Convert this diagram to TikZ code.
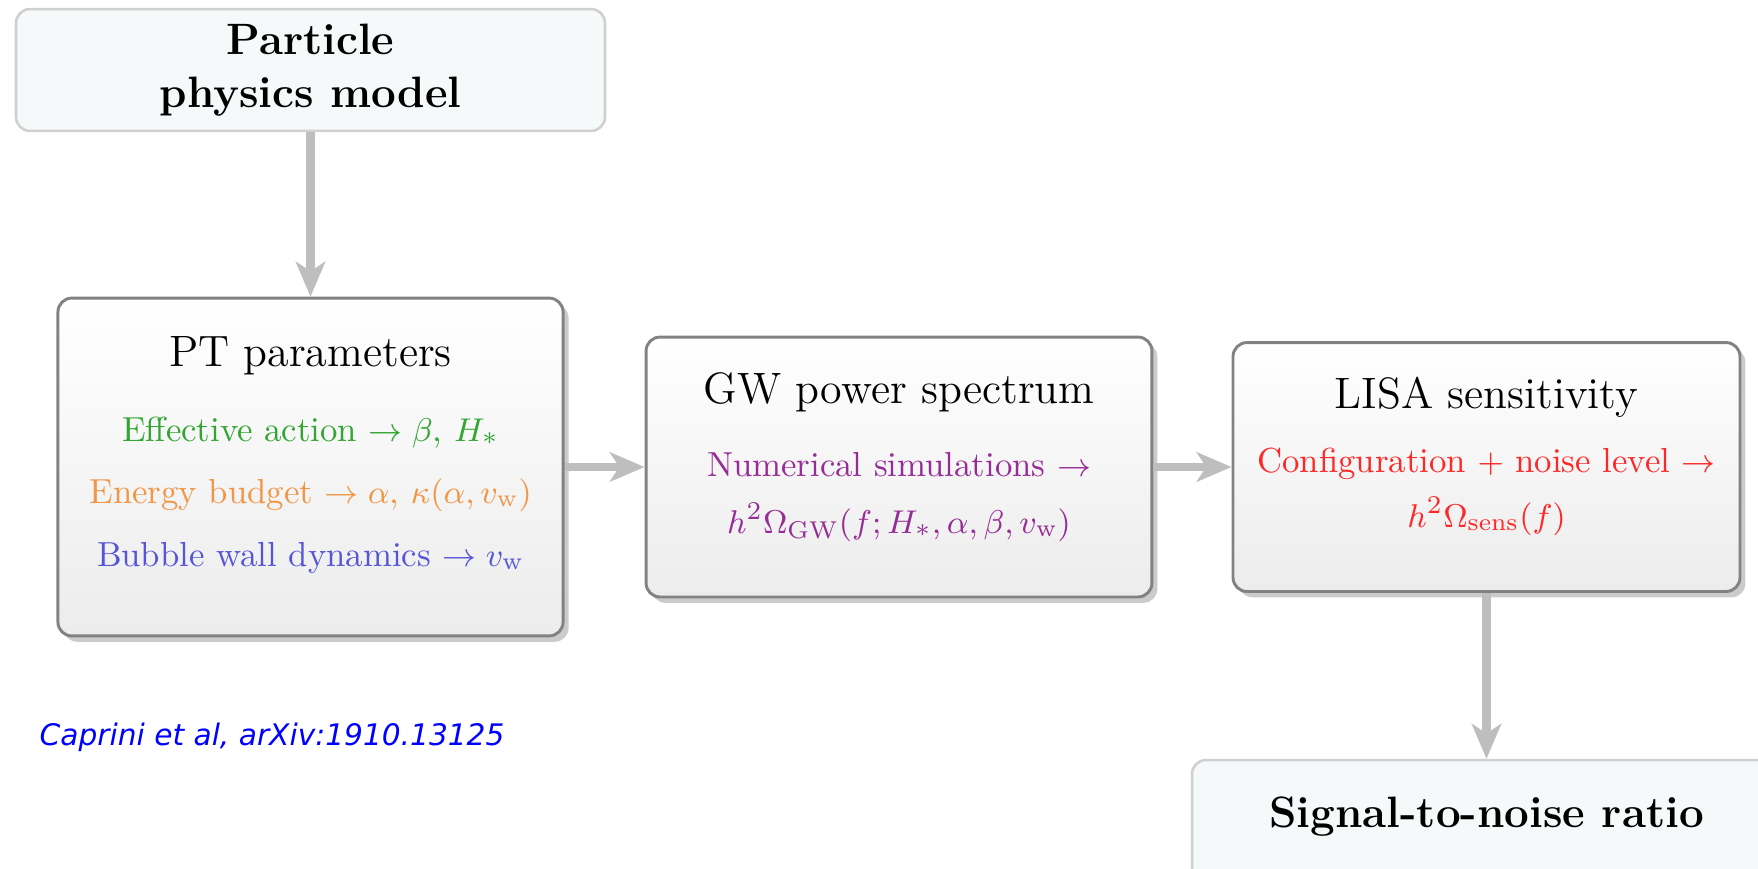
\documentclass[tikz,border=0pt]{standalone}
\usepackage{fontspec}
\newfontfamily\dejavu{DejaVu Sans}
\usetikzlibrary{arrows.meta,shadows}
\definecolor{arrowgray}{RGB}{190,190,190}
\definecolor{boxborder}{RGB}{130,130,130}
\definecolor{boxbottom}{RGB}{236,236,236}
\definecolor{lightfill}{RGB}{245,249,250}
\definecolor{lightborder}{RGB}{208,208,208}
\definecolor{cgreen}{RGB}{50,165,50}
\definecolor{corange}{RGB}{240,150,70}
\definecolor{cblue}{RGB}{85,85,215}
\definecolor{cpurple}{RGB}{150,45,150}
\definecolor{cred}{RGB}{255,40,40}
\definecolor{cref}{RGB}{0,0,255}
\begin{document}
\begin{tikzpicture}[x=0.2732pt,y=-0.2732pt,
  shadedbox/.style={draw=boxborder, line width=0.8pt, rounded corners=3.8pt,
    top color=white, bottom color=boxbottom, inner sep=0pt,
    drop shadow={shadow xshift=1.5pt, shadow yshift=-1.6pt, opacity=0.45, fill=black!45}},
  lightbox/.style={draw=lightborder, line width=0.7pt, fill=lightfill,
    rounded corners=3.8pt, inner sep=0pt, minimum width=160.9pt, minimum height=33.3pt},
  flow/.style={draw=arrowgray, line width=2.2pt,
    -{Stealth[length=9.5pt, width=8pt, inset=2.6pt]}},
  title/.style={anchor=base, inner sep=0pt, font=\fontsize{12}{14.5}\selectfont},
  body/.style={anchor=base, inner sep=0pt, font=\fontsize{9.5}{11.5}\selectfont},
  boldtext/.style={anchor=base, inner sep=0pt, font=\fontsize{12}{14.5}\selectfont\bfseries}
]
\path[use as bounding box, clip] (0,0) rectangle (1758,868);

% boxes
\node[lightbox] (part) at (310.5,70) {};
\node[shadedbox, minimum width=138pt, minimum height=92.3pt] (pt) at (310.5,467) {};
\node[shadedbox, minimum width=138.2pt, minimum height=71pt] (gw) at (899,467) {};
\node[shadedbox, minimum width=138.5pt, minimum height=68pt] (lisa) at (1486.5,467) {};
\node[lightbox] (snr) at (1486.5,821) {};

% texts
\node[boldtext] (partA) at (310.5,54) {Particle};
\node[boldtext] (partB) at (310.5,107) {physics model};

\node[title] (ptT) at (310.5,366) {PT parameters};
\node[body, text=cgreen] (ptA) at (310.5,441) {Effective action $\rightarrow \beta$, $H_*$};
\node[body, text=corange] (ptB) at (310.5,503) {Energy budget $\rightarrow \alpha$, $\kappa(\alpha, v_{\rm w})$};
\node[body, text=cblue] (ptC) at (310.5,566) {Bubble wall dynamics $\rightarrow v_{\rm w}$};

\node[title] (gwT) at (899,403) {GW power spectrum};
\node[body, text=cpurple] (gwA) at (899,476) {Numerical simulations $\rightarrow$};
\node[body, text=cpurple] (gwB) at (899,533) {$h^2\Omega_{\rm GW}(f;H_*,\alpha,\beta,v_{\rm w})$};

\node[title] (lisaT) at (1486.5,408) {LISA sensitivity};
\node[body, text=cred] (lisaA) at (1486.5,472) {Configuration $+$ noise level $\rightarrow$};
\node[body, text=cred] (lisaB) at (1486.5,527) {$h^2\Omega_{\rm sens}(f)$};

\node[boldtext] (snrT) at (1486.5,827) {Signal-to-noise ratio};

\node[anchor=base west, inner sep=0pt, text=cref, font=\dejavu\itshape\fontsize{8.1}{10}\selectfont] (ref) at (39,745) {Caprini et al, arXiv:1910.13125};

% connectors
\draw[flow] (part) -- (pt);
\draw[flow] (pt) -- (gw);
\draw[flow] (gw) -- (lisa);
\draw[flow] (lisa) -- (snr);
\end{tikzpicture}
\end{document}
